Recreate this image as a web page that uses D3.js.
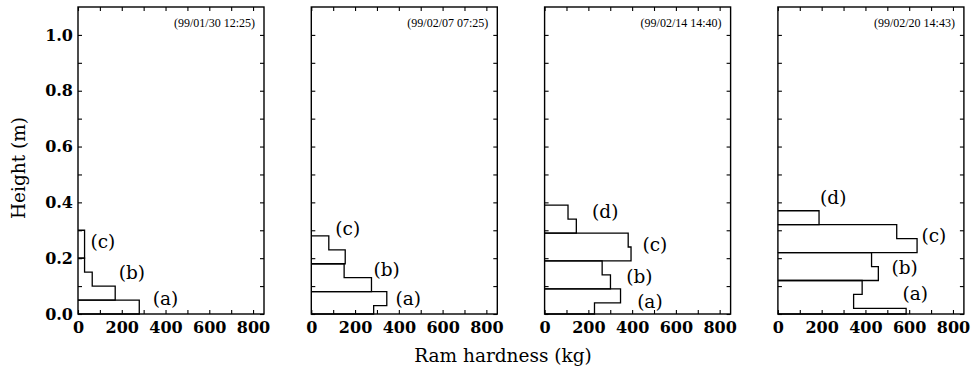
<!DOCTYPE html>
<html>
<head>
<meta charset="utf-8">
<script src="https://cdn.jsdelivr.net/npm/d3@7"></script>
<style>
  body { margin: 0; background: #fff; }
  svg { display: block; }
  .tick text { font-family: "DejaVu Serif", serif; font-weight: bold; font-size: 16px; fill: #000; }
  .tick line { stroke: #000; stroke-width: 1.1; }
</style>
</head>
<body>
<script>
const dates = ["(99/01/30 12:25)", "(99/02/07 07:25)", "(99/02/14 14:40)", "(99/02/20 14:43)"];

// pas de chaque profil : [couche, bas (m), haut (m), dureté (kg)]
const steps0130 = [
    ["a", 0.00, 0.05, 280],
    ["b", 0.05, 0.10, 170], ["b", 0.10, 0.15, 65], ["b", 0.15, 0.20, 30],
    ["c", 0.20, 0.30, 30]
];
const steps0207 = [
    ["a", 0.00, 0.03, 285], ["a", 0.03, 0.08, 345],
    ["b", 0.08, 0.13, 275], ["b", 0.13, 0.18, 150],
    ["c", 0.18, 0.23, 155], ["c", 0.23, 0.28, 80]
];
const steps0214 = [
    ["a", 0.00, 0.04, 228], ["a", 0.04, 0.09, 347],
    ["b", 0.09, 0.14, 301], ["b", 0.14, 0.19, 263],
    ["c", 0.19, 0.24, 395], ["c", 0.24, 0.29, 382],
    ["d", 0.29, 0.34, 145], ["d", 0.34, 0.39, 107]
];
const steps0220 = [
    ["a", 0.00, 0.02, 586], ["a", 0.02, 0.07, 346], ["a", 0.07, 0.12, 385],
    ["b", 0.12, 0.17, 459], ["b", 0.17, 0.22, 428],
    ["c", 0.22, 0.27, 636], ["c", 0.27, 0.32, 543],
    ["d", 0.32, 0.37, 188]
];

// étiquettes des couches : [texte, dureté (kg), hauteur (m)]
const labels0130 = [["(a)", 342, 0.054], ["(b)", 186, 0.15], ["(c)", 57, 0.26]];
const labels0207 = [["(a)", 385, 0.057], ["(b)", 284, 0.158], ["(c)", 110, 0.308]];
const labels0214 = [["(a)", 423, 0.043], ["(b)", 373, 0.133], ["(c)", 447, 0.25], ["(d)", 217, 0.366]];
const labels0220 = [["(a)", 570, 0.075], ["(b)", 519, 0.165], ["(c)", 656, 0.28], ["(d)", 193, 0.416]];

const xTicks = [0, 100, 200, 300, 400, 500, 600, 700, 800];
const yTicks = [0, 0.1, 0.2, 0.3, 0.4, 0.5, 0.6, 0.7, 0.8, 0.9, 1.0];

const panels = [
    { date: dates[0], steps: steps0130, labels: labels0130 },
    { date: dates[1], steps: steps0207, labels: labels0207 },
    { date: dates[2], steps: steps0214, labels: labels0214 },
    { date: dates[3], steps: steps0220, labels: labels0220 }
];

const width = 975, height = 373;
const plotTop = 7, plotBottom = 314;
const panelW = 186, panelGap = 47.3, firstLeft = 78;

const svg = d3.select("body").append("svg").attr("width", width).attr("height", height);

const x = d3.scaleLinear().domain([0, 850]).range([0, panelW]);
const y = d3.scaleLinear().domain([0, 1.1]).range([plotBottom, plotTop]);

panels.forEach((p, i) => {
    const left = firstLeft + i * (panelW + panelGap);
    const g = svg.append("g").attr("transform", `translate(${left},0)`);

    // axes (graduations vers l'intérieur)
    g.append("g").attr("transform", `translate(0,${plotBottom})`)
        .call(d3.axisBottom(x).tickValues(xTicks).tickSizeInner(-4).tickSizeOuter(0).tickPadding(8)
            .tickFormat(d => d % 200 === 0 ? d : ""))
        .call(a => a.select(".domain").remove());
    g.append("g").attr("transform", `translate(0,${plotTop})`)
        .call(d3.axisTop(x).tickValues(xTicks).tickSizeInner(-4).tickSizeOuter(0).tickFormat(""))
        .call(a => a.select(".domain").remove());
    g.append("g").attr("transform", `translate(${panelW},0)`)
        .call(d3.axisRight(y).tickValues(yTicks).tickSizeInner(-4).tickSizeOuter(0).tickFormat(""))
        .call(a => a.select(".domain").remove());
    g.append("g")
        .call(d3.axisLeft(y).tickValues(yTicks).tickSizeInner(-4).tickSizeOuter(0).tickPadding(5)
            .tickFormat(d => i === 0 && Math.round(d * 10) % 2 === 0 ? d3.format(".1f")(d) : ""))
        .call(a => a.select(".domain").remove());

    g.append("rect")
        .attr("x", 0).attr("y", plotTop)
        .attr("width", panelW).attr("height", plotBottom - plotTop)
        .attr("fill", "none").attr("stroke", "#000").attr("stroke-width", 1.4);

    // profils en escalier, une forme fermée par couche
    const layers = d3.groups(p.steps, d => d[0]);
    layers.forEach(([name, steps]) => {
        const path = d3.path();
        path.moveTo(x(0), y(steps[0][1]));
        steps.forEach(s => {
            path.lineTo(x(s[3]), y(s[1]));
            path.lineTo(x(s[3]), y(s[2]));
        });
        path.lineTo(x(0), y(steps[steps.length - 1][2]));
        g.append("path")
            .attr("d", path.toString())
            .attr("fill", "none")
            .attr("stroke", "#000")
            .attr("stroke-width", 1.3);
    });

    g.selectAll(".layer-label")
        .data(p.labels)
        .enter()
        .append("text")
        .attr("class", "layer-label")
        .attr("x", d => x(d[1]))
        .attr("y", d => y(d[2]))
        .attr("dy", "0.35em")
        .style("font-family", "'DejaVu Serif', serif")
        .style("font-size", "18.5px")
        .text(d => d[0]);

    g.append("text")
        .attr("x", panelW - 9)
        .attr("y", 27)
        .attr("text-anchor", "end")
        .style("font-family", "'Liberation Serif', serif")
        .style("font-size", "12px")
        .text(p.date);
});

svg.append("text")
    .attr("transform", `translate(25,168) rotate(-90)`)
    .attr("text-anchor", "middle")
    .style("font-family", "'DejaVu Serif', serif")
    .style("font-size", "18.5px")
    .text("Height (m)");

svg.append("text")
    .attr("x", 503)
    .attr("y", 362)
    .attr("text-anchor", "middle")
    .style("font-family", "'DejaVu Serif', serif")
    .style("font-size", "18.5px")
    .text("Ram hardness (kg)");
</script>
</body>
</html>
